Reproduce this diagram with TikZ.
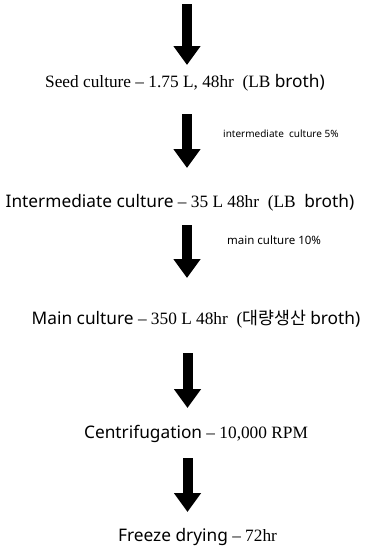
\documentclass[tikz,border=0pt]{standalone}
\usepackage{fontspec}
\setmainfont{Liberation Serif}
\newfontfamily\sansf{Noto Sans}
\newfontfamily\krf{Noto Sans CJK KR}
\usetikzlibrary{arrows.meta}
\tikzset{
  bigarrow/.style={line width=10pt, -{Triangle[width=26pt,length=19pt]}},
  steptext/.style={anchor=base, inner sep=0pt, font=\fontsize{17.3}{19}\selectfont},
  sidelabel/.style={anchor=base west, inner sep=0pt, font=\sansf\fontsize{10}{12}\selectfont}
}
\newcommand{\sx}[1]{{\sansf\fontsize{17.3}{19}\selectfont #1}}
\begin{document}
\begin{tikzpicture}[x=1pt,y=-1pt]
\useasboundingbox (0,0) rectangle (365,550);
% texts
\node[steptext] (seed) at (185,87) {Seed culture -- 1.75 L, 48hr\ \ (LB \sx{broth)}};
\node[steptext] (inter) at (180,207) {\sx{Intermediate culture} -- 35 L 48hr\ \ (LB\ \ \sx{broth)}};
\node[steptext] (main) at (196,324) {\sx{Main culture} -- 350 L 48hr\ \ ({\krf\fontsize{17.3}{19}\selectfont 대량생산} \sx{broth)}};
\node[steptext] (centri) at (196,438) {\sx{Centrifugation} -- 10,000 RPM};
\node[steptext] (freeze) at (197.5,541) {\sx{Freeze drying} -- 72hr};
% side labels
\node[sidelabel] (l1) at (223,137) {intermediate\ \ culture 5\%};
\node[sidelabel, font=\sansf\fontsize{11.5}{13}\selectfont] (l2) at (227,244) {main culture 10\%};
% arrow ends
\coordinate (a1s) at (187,4);   \coordinate (a1e) at (187,65);
\coordinate (a2s) at (187,114); \coordinate (a2e) at (187,168);
\coordinate (a3s) at (187,225); \coordinate (a3e) at (187,278);
\coordinate (a4s) at (187.5,353); \coordinate (a4e) at (187.5,408);
\coordinate (a5s) at (187.5,458); \coordinate (a5e) at (187.5,512);
\draw[bigarrow] (a1s) -- (a1e);
\draw[bigarrow] (a2s) -- (a2e);
\draw[bigarrow] (a3s) -- (a3e);
\draw[bigarrow] (a4s) -- (a4e);
\draw[bigarrow] (a5s) -- (a5e);
\end{tikzpicture}
\end{document}
